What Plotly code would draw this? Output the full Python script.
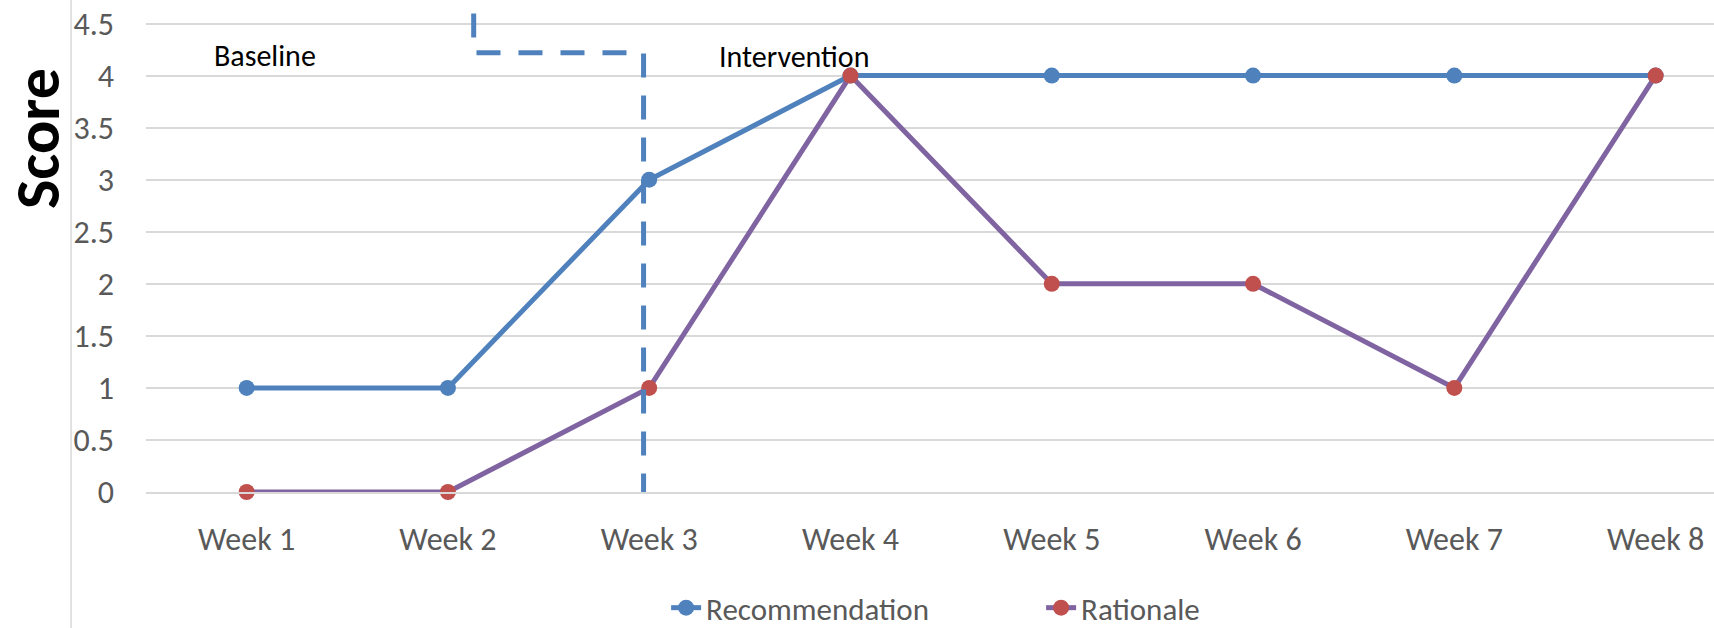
import plotly.graph_objects as go

weeks = ["Week 1", "Week 2", "Week 3", "Week 4", "Week 5", "Week 6", "Week 7", "Week 8"]
recommendation = [1, 1, 3, 4, 4, 4, 4, 4]
rationale = [0, 0, 1, 4, 2, 2, 1, 4]
y_ticks = [0, 0.5, 1, 1.5, 2, 2.5, 3, 3.5, 4, 4.5]

FONT = "Calibri, Carlito, Lato, sans-serif"
GRAY = "#595959"
BLUE = "#4F81BD"
PURPLE = "#8064A2"
RED = "#C0504D"
GRID = "#D9D9D9"

fig = go.Figure()
fig.add_trace(go.Scatter(
    x=weeks, y=recommendation, name="Recommendation", mode="lines+markers",
    line=dict(color=BLUE, width=5), marker=dict(color=BLUE, size=16),
    cliponaxis=False,
))
fig.add_trace(go.Scatter(
    x=weeks, y=rationale, name="Rationale", mode="lines+markers",
    line=dict(color=PURPLE, width=5), marker=dict(color=RED, size=16),
    cliponaxis=False,
))

# phase-change dashed connector
fig.add_shape(type="path", xref="x", yref="y",
              path="M 1.128,5 L 1.128,4.22 L 1.972,4.22 L 1.972,0",
              line=dict(color=BLUE, width=5, dash="24px,18px"))
# chart-area left border
fig.add_shape(type="line", xref="paper", yref="paper",
              x0=-0.0478, x1=-0.0478, y0=-0.4, y1=1.1,
              line=dict(color=GRID, width=1.5))

fig.add_annotation(text="Baseline", x=0.09, y=4.19, xref="x", yref="y",
                   xanchor="center", yanchor="middle",
                   showarrow=False, font=dict(family=FONT, size=30, color="black"))
fig.add_annotation(text="Intervention", x=2.72, y=4.18, xref="x", yref="y",
                   xanchor="center", yanchor="middle",
                   showarrow=False, font=dict(family=FONT, size=30, color="black"))
fig.add_annotation(text="<b>Score</b>", x=-0.0689, y=0.7195, xref="paper", yref="paper",
                   xanchor="center", yanchor="middle",
                   showarrow=False, textangle=-90,
                   font=dict(family=FONT, size=62, color="black"))

fig.update_layout(
    width=1714, height=628,
    margin=dict(l=146, r=0, t=0, b=136, autoexpand=False),
    paper_bgcolor="white", plot_bgcolor="white",
    font=dict(family=FONT, size=32, color=GRAY),
    showlegend=True,
    legend=dict(orientation="h", x=0.3317, xanchor="left", y=-0.2358, yanchor="middle",
                font=dict(family=FONT, size=31, color=GRAY),
                entrywidth=330, entrywidthmode="pixels",
                itemclick=False, itemdoubleclick=False),
    xaxis=dict(type="category", range=[-0.5, 7.29], showgrid=False, automargin=False,
               showline=True, linecolor=GRID, linewidth=1.5,
               ticks="", ticklabelstandoff=18,
               tickfont=dict(family=FONT, size=32, color=GRAY)),
    yaxis=dict(range=[0, 4.726], tickvals=y_ticks, ticktext=[f"{v:g}" for v in y_ticks],
               showgrid=True, gridcolor=GRID, gridwidth=1.5, zeroline=False, automargin=False,
               showline=False, ticks="", ticklabelstandoff=31,
               tickfont=dict(family=FONT, size=32, color=GRAY)),
)

fig.write_html("out.html", config={"displayModeBar": False},
               post_script="document.body.style.margin='0';")
